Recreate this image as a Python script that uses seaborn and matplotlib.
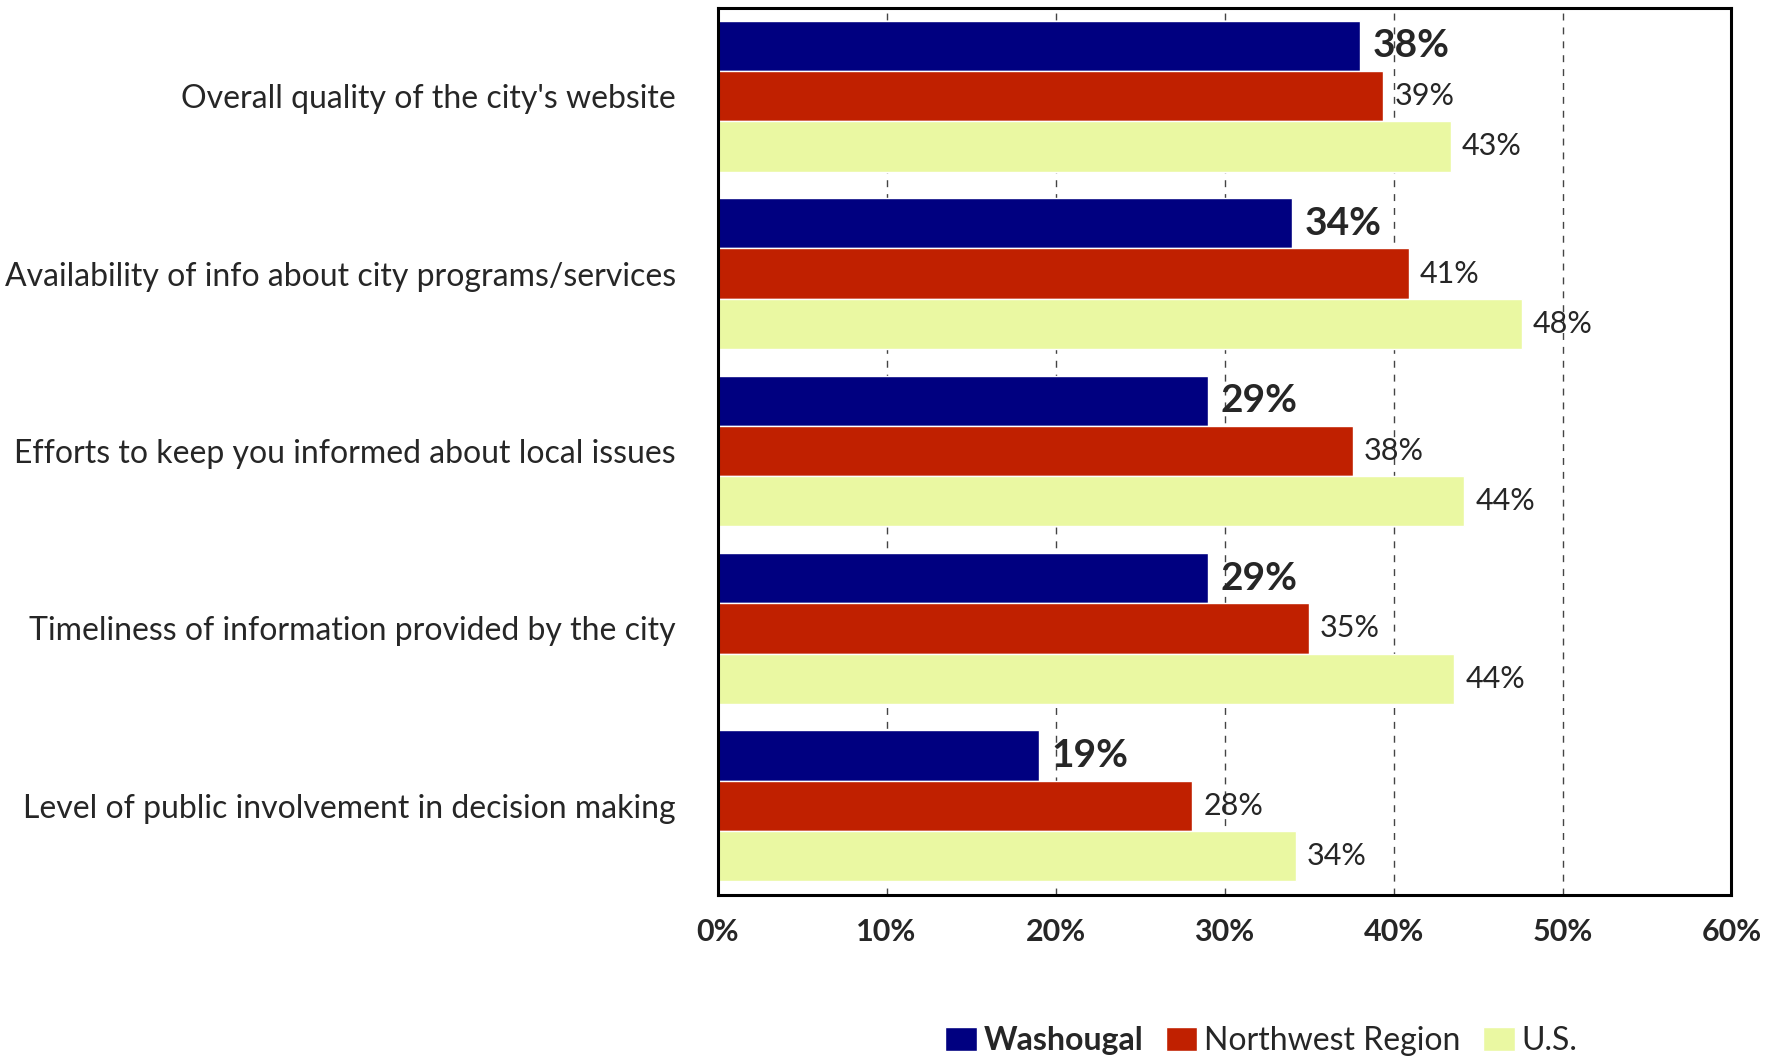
import matplotlib
matplotlib.use('Agg')
import matplotlib.pyplot as plt
import pandas as pd
import seaborn as sns

categories = [
    "Overall quality of the city's website",
    "Availability of info about city programs/services",
    "Efforts to keep you informed about local issues",
    "Timeliness of information provided by the city",
    "Level of public involvement in decision making",
]
series = ["Washougal", "Northwest Region", "U.S."]
washougal = [38, 34, 29, 29, 19]
northwest = [39.4, 40.9, 37.6, 35.0, 28.1]
us = [43.4, 47.6, 44.2, 43.6, 34.2]
colors = ["#000080", "#C02000", "#EAF8A2"]
x_ticks = [0, 10, 20, 30, 40, 50, 60]

df = pd.DataFrame({
    "category": categories * 3,
    "series": [series[0]] * 5 + [series[1]] * 5 + [series[2]] * 5,
    "value": washougal + northwest + us,
})

sns.set_theme(style="white")
plt.rcParams['font.family'] = ['Lato', 'DejaVu Sans']

fig = plt.figure(figsize=(17.81, 10.6), dpi=100)
ax = fig.add_axes([0.4029, 0.1561, 0.5693, 0.8368])

sns.barplot(data=df, x="value", y="category", hue="series", hue_order=series,
            order=categories, palette=colors, width=0.85, saturation=1,
            orient="h", ax=ax)

ax.set_xlim(0, 60)
ax.set_xticks(x_ticks)
ax.set_xticklabels([f"{t}%" for t in x_ticks], fontsize=22, fontweight='bold')
ax.tick_params(axis='x', direction='in', length=6, width=1, color='black', pad=17)
ax.tick_params(axis='y', length=0, pad=30, labelsize=23)
ax.set_xlabel("")
ax.set_ylabel("")

ax.set_axisbelow(True)
ax.grid(axis='x', linestyle=(0, (5, 5)), color='#444444', linewidth=1)
ax.grid(axis='y', visible=False)
for s in ax.spines.values():
    s.set_color('black')
    s.set_linewidth(2.2)

for i, cont in enumerate(ax.containers):
    if i == 0:
        ax.bar_label(cont, fmt=lambda v: f"{v:.0f}%", padding=9,
                     fontsize=28, fontweight='bold')
    else:
        ax.bar_label(cont, fmt=lambda v: f"{v:.0f}%", padding=8, fontsize=22)

handles, labels = ax.get_legend_handles_labels()
ax.get_legend().remove()
leg = fig.legend(handles, labels, loc='center', bbox_to_anchor=(0.708, 0.018),
                 ncol=3, frameon=False, fontsize=23, handlelength=1.0,
                 handleheight=0.8, handletextpad=0.2, columnspacing=0.7)
leg.get_texts()[0].set_fontweight('bold')

fig.savefig("out.png", dpi=100)
